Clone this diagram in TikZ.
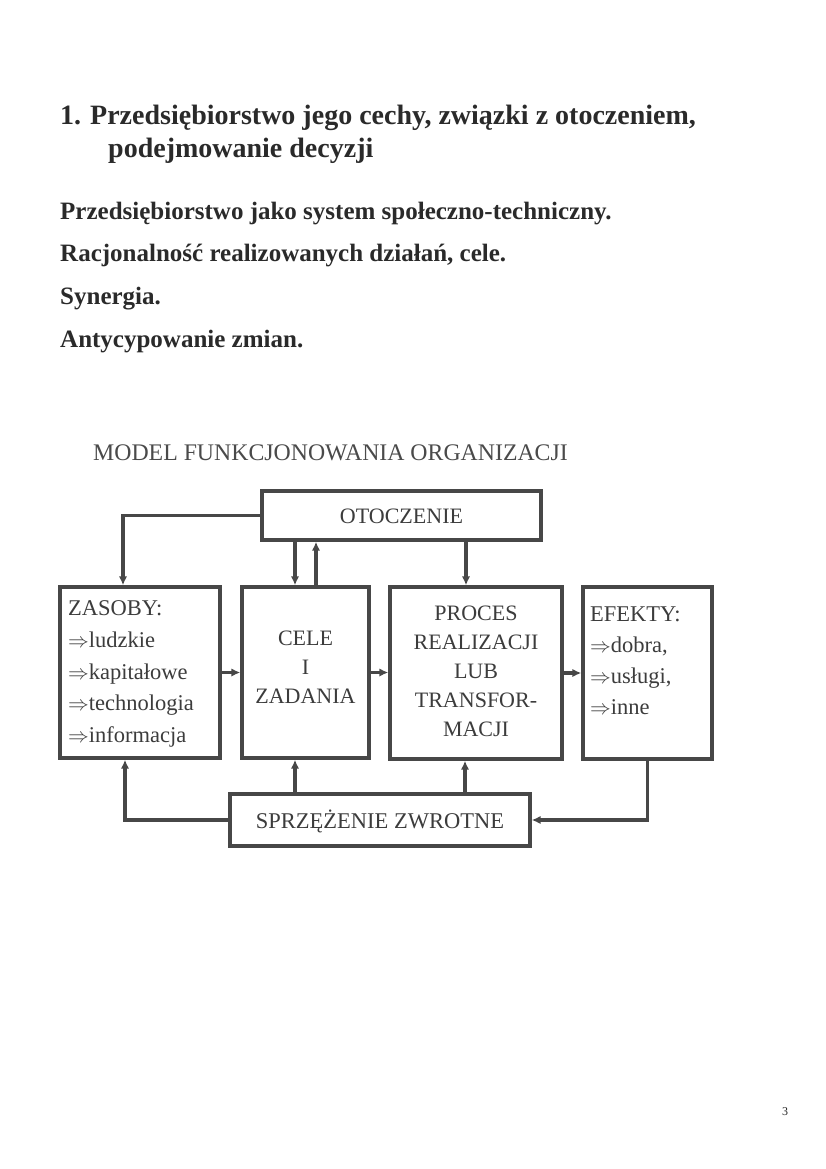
\documentclass[tikz,border=0pt]{standalone}
\usepackage{fontspec}
\setmainfont{Liberation Serif}
\usetikzlibrary{arrows.meta,calc}
\definecolor{linec}{HTML}{474747}
\definecolor{boxtxt}{HTML}{3C3C3C}
\definecolor{headc}{HTML}{2A2A2A}
\definecolor{modelc}{HTML}{4A4A4A}
\begin{document}
\begin{tikzpicture}[x=1pt,y=-1pt,
  box/.style={draw=linec,line width=3.4pt,rectangle,inner sep=0pt,fill=white},
  conn/.style={draw=linec,line width=3.4pt},
  arr/.style={conn,-{Latex[length=9pt,width=8.5pt]}},
  btxt/.style={text=boxtxt,inner sep=0pt,font=\fontsize{22}{30}\selectfont},
  head/.style={text=headc,inner sep=0pt,anchor=base west,font=\fontsize{28}{34}\selectfont\bfseries},
  body/.style={text=headc,inner sep=0pt,anchor=base west,font=\fontsize{25}{30}\selectfont\bfseries}]
\useasboundingbox[fill=white] (0,0) rectangle (826,1169);
% headings
\node[head] (h1n) at (60,125) {1.};
\node[head] (h1) at (90,125) {Przedsiębiorstwo jego cechy, związki z otoczeniem,};
\node[head] (h2) at (108,158) {podejmowanie decyzji};
\node[body] (b1) at (60,219) {Przedsiębiorstwo jako system społeczno-techniczny.};
\node[body] (b2) at (60,261) {Racjonalność realizowanych działań, cele.};
\node[body] (b3) at (60,304) {Synergia.};
\node[body] (b4) at (60,347) {Antycypowanie zmian.};
\node[text=modelc,inner sep=0pt,anchor=base west,font=\fontsize{23.8}{28}\selectfont] (mt) at (93,460) {MODEL FUNKCJONOWANIA ORGANIZACJI};
% boxes
\node[box,minimum width=279pt,minimum height=49pt] (oto) at (401.5,515.5) {};
\node[btxt] (otoT) at (401.5,516) {OTOCZENIE};
\node[box,minimum width=160pt,minimum height=171pt] (zas) at (140,672.5) {};
\node[btxt,anchor=west,align=left,font=\fontsize{22.5}{31.75}\selectfont] (zasT) at (68,674)
  {ZASOBY:\\$\Rightarrow$ludzkie\\$\Rightarrow$kapitałowe\\$\Rightarrow$technologia\\$\Rightarrow$informacja};
\node[box,minimum width=127pt,minimum height=171pt] (cele) at (305.5,672.5) {};
\node[btxt,align=center,font=\fontsize{22}{29}\selectfont] (celeT) at (305.5,667) {CELE\\I\\ZADANIA};
\node[box,minimum width=172pt,minimum height=172pt] (proc) at (476,673) {};
\node[btxt,align=center,font=\fontsize{22}{29}\selectfont] (procT) at (476,671) {PROCES\\REALIZACJI\\LUB\\TRANSFOR-\\MACJI};
\node[box,minimum width=129pt,minimum height=172pt] (efe) at (647.5,673) {};
\node[btxt,anchor=west,align=left,font=\fontsize{22.5}{31}\selectfont] (efeT) at (590,661)
  {EFEKTY:\\$\Rightarrow$dobra,\\$\Rightarrow$usługi,\\$\Rightarrow$inne};
\node[box,minimum width=300pt,minimum height=52pt] (sprz) at (380,820) {};
\node[btxt,font=\fontsize{22.5}{30}\selectfont] (sprzT) at (380,821) {SPRZĘŻENIE ZWROTNE};
% helper coordinates
\coordinate (cl) at ([xshift=-10.5pt]cele.north);
\coordinate (cr) at ([xshift=10.5pt]cele.north);
\coordinate (cb) at ([xshift=-10.5pt]cele.south);
\coordinate (pt) at ([xshift=-10pt]proc.north);
\coordinate (pb) at ([xshift=-11pt]proc.south);
\coordinate (zt) at ([xshift=-17pt]zas.north);
\coordinate (zb) at ([xshift=-15pt]zas.south);
% connectors
\draw[arr] (oto.west) -| (zt);
\draw[arr] (cl |- oto.south) -- (cl);
\draw[arr] (cr) -- (cr |- oto.south);
\draw[arr] (pt |- oto.south) -- (pt);
\draw[arr] (zas.east) -- (cele.west);
\draw[arr] (cele.east) -- (proc.west |- cele.east);
\draw[arr] (proc.east) -- (efe.west);
\draw[arr] (sprz.west) -| (zb);
\draw[arr] (cb |- sprz.north) -- (cb);
\draw[arr] (pb |- sprz.north) -- (pb);
\draw[arr] (efe.south) |- (sprz.east);
% page number
\node[text=headc,inner sep=0pt,font=\fontsize{12}{14}\selectfont] (pg) at (785,1112) {3};
\end{tikzpicture}
\end{document}
